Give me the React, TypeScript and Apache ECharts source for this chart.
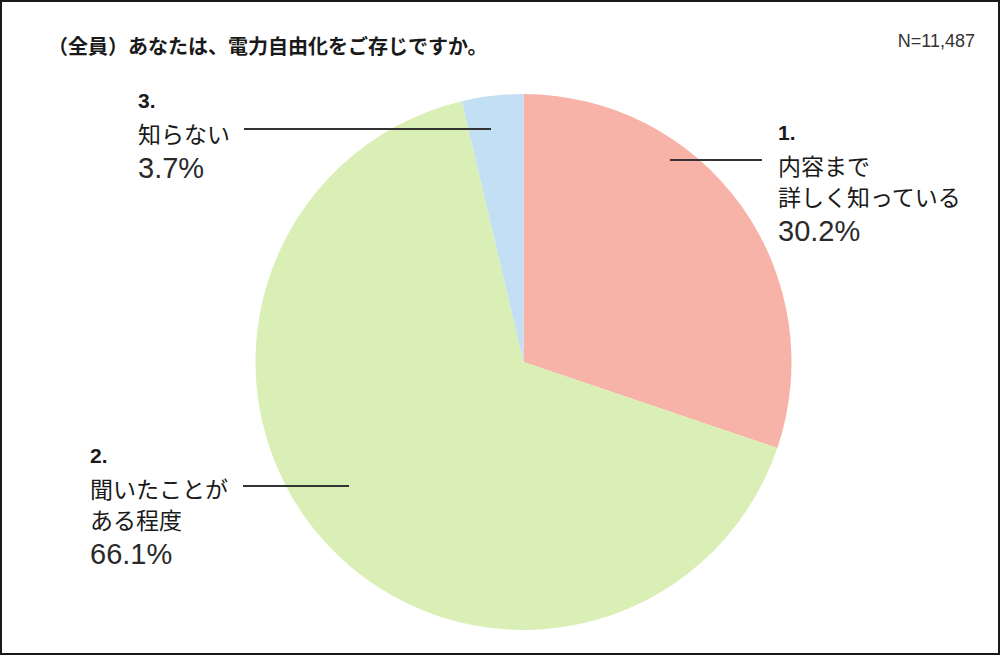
import React, { useEffect, useRef } from 'react'
import * as echarts from 'echarts'

// 回答カテゴリ（改行はラベルの折り返し位置）
const categories = ['内容まで\n詳しく知っている', '聞いたことが\nある程度', '知らない']
const shares = [30.2, 66.1, 3.7]
const colors = ['#F8B3A8', '#D9EFB5', '#C2DFF4']

const titleText = '（全員）あなたは、電力自由化をご存じですか。'
const sampleText = 'N=11,487'

// ラベルの配置（左上基準）
const labelPos = [
	[778, 115],
	[90, 438],
	[138, 83],
]
// 引き出し線 [x1, x2, y]
const leaderLines = [
	[670, 762, 160],
	[243, 349, 486],
	[244, 491, 129],
]

const JP = '"Noto Sans CJK JP", sans-serif'
const LATIN = '"Liberation Sans", Arial, sans-serif'

const App = () => {
	const chartRef = useRef(null)

	useEffect(() => {
		document.body.style.margin = '0'
		const chart = echarts.init(chartRef.current, null, { renderer: 'svg' })

		const options = {
			animation: false,
			backgroundColor: '#ffffff',
			color: colors,
			graphic: [
				{
					type: 'rect',
					shape: { x: 1, y: 1, width: 998, height: 653 },
					style: { fill: 'none', stroke: '#1a1a1a', lineWidth: 2 },
					z: 10,
				},
				{
					type: 'text',
					x: 48,
					y: 35,
					style: {
						text: titleText,
						font: `bold 20px ${JP}`,
						fill: '#1a1a1a',
					},
				},
				{
					type: 'text',
					x: 975,
					y: 32,
					style: {
						text: sampleText,
						font: `18px ${LATIN}`,
						fill: '#333',
						align: 'right',
					},
				},
				...leaderLines.map(([x1, x2, y]) => ({
					type: 'line',
					shape: { x1, y1: y, x2, y2: y },
					style: { stroke: '#333', lineWidth: 2 },
					z: 20,
				})),
			],
			series: [
				{
					type: 'pie',
					center: [523.5, 362],
					radius: 268,
					startAngle: 90,
					clockwise: true,
					avoidLabelOverlap: false,
					silent: true,
					data: categories.map((name, i) => ({ name, value: shares[i] })),
					labelLine: { show: false },
					label: {
						show: true,
						position: 'outside',
						color: '#1a1a1a',
						formatter: (p) => {
							const lines = p.name.split('\n').map((s) => `{t|${s}}`).join('\n')
							return `{n|${p.dataIndex + 1}.}\n${lines}\n{p|${p.value.toFixed(1)}%}`
						},
						rich: {
							n: { fontSize: 21, fontWeight: 'bold', fontFamily: LATIN, lineHeight: 34, color: '#1a1a1a' },
							t: { fontSize: 23, fontFamily: JP, lineHeight: 31, color: '#1a1a1a' },
							p: { fontSize: 29, fontFamily: LATIN, lineHeight: 40, color: '#2a2a2a' },
						},
					},
					labelLayout: (params) => {
						const [x, y] = labelPos[params.dataIndex]
						return { x, y, align: 'left', verticalAlign: 'top' }
					},
				},
			],
		}

		chart.setOption(options)

		return () => {
			chart.dispose()
		}
	}, [])

	return (
		<div
			ref={chartRef}
			style={{ position: 'absolute', left: 0, top: 0, width: '1000px', height: '655px' }}
		/>
	)
}

export default App
